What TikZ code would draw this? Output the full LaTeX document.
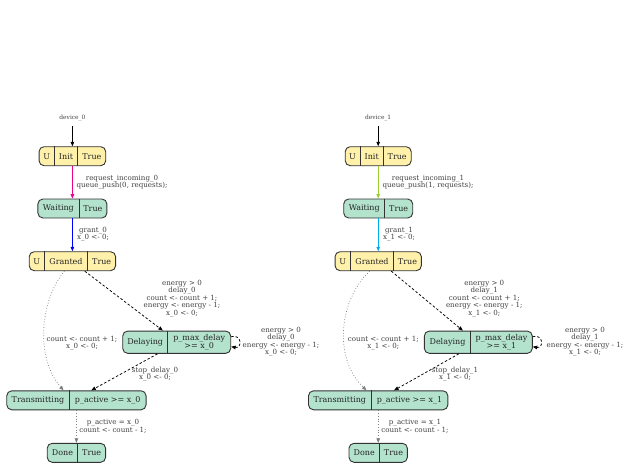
\documentclass[tikz,border=0pt]{standalone}
\usepackage{fontspec}
\setmainfont{DejaVu Serif}
\usetikzlibrary{arrows.meta}
\definecolor{ylw}{HTML}{FFF0AA}
\definecolor{mint}{HTML}{B3E2CD}
\definecolor{ygreen}{HTML}{9ACD32}
\definecolor{bord}{HTML}{333333}
\newcommand\vdiv[2]{\draw[divline] (#2.north -| #1,0) -- (#2.south -| #1,0);}
\begin{document}
\begin{tikzpicture}[x=1pt,y=-1pt,
  sbox/.style={draw=bord,line width=0.9pt,rounded corners=5pt,inner sep=0pt,minimum height=19pt},
  divline/.style={draw=bord,line width=0.8pt},
  ntext/.style={inner sep=0pt,font=\fontsize{8}{9}\selectfont,text=black!85,align=center},
  elabel/.style={inner sep=0pt,font=\fontsize{7.1}{7.4}\selectfont,text=black!75,align=center},
  dlabel/.style={inner sep=0pt,font=\fontsize{5.9}{7}\selectfont,text=black!75},
  arr/.style={-{Triangle[length=4.5pt,width=3.6pt]},line width=0.75pt},
  dashedge/.style={arr,dash pattern=on 2.5pt off 2pt,black},
  dotedge/.style={arr,dotted,black!50},
]
\useasboundingbox (0,0) rectangle (629,469);
% ================= LEFT =================
\node[dlabel] (dev0) at (72.4,118) {device\_0};
\node[sbox,fill=ylw,minimum width=66.7pt] (init0) at (72.4,156.2) {};
\vdiv{54.3}{init0}\vdiv{77.7}{init0}
\node[ntext] (init0a) at (46.8,156.2) {U};
\node[ntext] (init0b) at (66,156.2) {Init};
\node[ntext] (init0c) at (91.9,156.2) {True};

\node[sbox,fill=mint,minimum width=69pt] (wait0) at (72.4,208.5) {};
\vdiv{79}{wait0}
\node[ntext] (wait0a) at (58.4,208.5) {Waiting};
\node[ntext] (wait0b) at (92.9,208.5) {True};

\node[sbox,fill=ylw,minimum width=86.4pt] (gran0) at (72.4,261.2) {};
\vdiv{44.3}{gran0}\vdiv{87.7}{gran0}
\node[ntext] (gran0a) at (36.8,261.2) {U};
\node[ntext] (gran0b) at (66,261.2) {Granted};
\node[ntext] (gran0c) at (101.7,261.2) {True};

\node[sbox,fill=mint,minimum width=108pt,minimum height=22.3pt] (dly0) at (176.7,342.2) {};
\vdiv{167.7}{dly0}
\node[ntext] (dly0a) at (145.2,342.2) {Delaying};
\node[ntext] (dly0b) at (199.2,342.2) {p\_max\_delay\\[-0.8pt]>= x\_0};

\node[sbox,fill=mint,minimum width=139.3pt] (tr0) at (76.4,400.3) {};
\vdiv{69.3}{tr0}
\node[ntext] (tr0a) at (38,400.3) {Transmitting};
\node[ntext] (tr0b) at (107.7,400.3) {p\_active >= x\_0};

\node[sbox,fill=mint,minimum width=58.4pt] (done0) at (76.4,452.8) {};
\vdiv{77.7}{done0}
\node[ntext] (done0a) at (62.5,452.8) {Done};
\node[ntext] (done0b) at (91.7,452.8) {True};

\path (dev0.south) ++(0,-5pt) coordinate (dev0s);
\draw[arr,black] (dev0s) -- (init0.north);
\draw[arr,magenta] (init0.south) -- (wait0.north);
\node[elabel] (l01) at (122,182) {request\_incoming\_0\\queue\_push(0, requests);};
\draw[arr,blue] (wait0.south) -- (gran0.north);
\node[elabel] (l02) at (93,234.2) {grant\_0\\x\_0 <- 0;};
\draw[dashedge] ([xshift=56pt]gran0.south west) -- ([xshift=40.6pt]dly0.north west);
\node[elabel] (l03) at (182,298.5) {energy > 0\\delay\_0\\count <- count + 1;\\energy <- energy - 1;\\x\_0 <- 0;};
\draw[dotedge] ([xshift=35.7pt]gran0.south west) .. controls (40,300) and (35,358) .. ([xshift=57.3pt]tr0.north west);
\node[elabel] (l04) at (82,343) {count <- count + 1;\\x\_0 <- 0;};
\draw[dashedge] ([yshift=5.5pt]dly0.east) .. controls +(11,-3) and +(11,2) .. ([yshift=-4.5pt]dly0.east);
\node[elabel] (l05) at (281,341.5) {energy > 0\\delay\_0\\energy <- energy - 1;\\x\_0 <- 0;};
\draw[dashedge] ([xshift=35.3pt]dly0.south west) -- ([xshift=85pt]tr0.north west);
\node[elabel] (l06) at (155,374) {stop\_delay\_0\\x\_0 <- 0;};
\draw[dotedge] (tr0.south) -- (done0.north);
\node[elabel] (l07) at (113,426.5) {p\_active = x\_0\\count <- count - 1;};

% ================= RIGHT =================
\node[dlabel] (dev1) at (378.2,118) {device\_1};
\node[sbox,fill=ylw,minimum width=66pt] (init1) at (378.2,156.2) {};
\vdiv{360}{init1}\vdiv{383.3}{init1}
\node[ntext] (init1a) at (352.5,156.2) {U};
\node[ntext] (init1b) at (371.7,156.2) {Init};
\node[ntext] (init1c) at (397.2,156.2) {True};

\node[sbox,fill=mint,minimum width=69pt] (wait1) at (378.2,208.5) {};
\vdiv{384.7}{wait1}
\node[ntext] (wait1a) at (364.2,208.5) {Waiting};
\node[ntext] (wait1b) at (398.7,208.5) {True};

\node[sbox,fill=ylw,minimum width=86.3pt] (gran1) at (378.2,261.2) {};
\vdiv{350.3}{gran1}\vdiv{393.7}{gran1}
\node[ntext] (gran1a) at (342.7,261.2) {U};
\node[ntext] (gran1b) at (372,261.2) {Granted};
\node[ntext] (gran1c) at (407.5,261.2) {True};

\node[sbox,fill=mint,minimum width=108pt,minimum height=22.3pt] (dly1) at (478.3,342.2) {};
\vdiv{470.7}{dly1}
\node[ntext] (dly1a) at (447.5,342.2) {Delaying};
\node[ntext] (dly1b) at (501.5,342.2) {p\_max\_delay\\[-0.8pt]>= x\_1};

\node[sbox,fill=mint,minimum width=139.4pt] (tr1) at (378.2,400.3) {};
\vdiv{371.3}{tr1}
\node[ntext] (tr1a) at (339.8,400.3) {Transmitting};
\node[ntext] (tr1b) at (409.5,400.3) {p\_active >= x\_1};

\node[sbox,fill=mint,minimum width=58.4pt] (done1) at (378.2,452.8) {};
\vdiv{379.3}{done1}
\node[ntext] (done1a) at (364.3,452.8) {Done};
\node[ntext] (done1b) at (393.5,452.8) {True};

\path (dev1.south) ++(0,-5pt) coordinate (dev1s);
\draw[arr,black] (dev1s) -- (init1.north);
\draw[arr,ygreen] (init1.south) -- (wait1.north);
\node[elabel] (l11) at (428,182) {request\_incoming\_1\\queue\_push(1, requests);};
\draw[arr,cyan] (wait1.south) -- (gran1.north);
\node[elabel] (l12) at (399,234.2) {grant\_1\\x\_1 <- 0;};
\draw[dashedge] ([xshift=56.7pt]gran1.south west) -- ([xshift=39pt]dly1.north west);
\node[elabel] (l13) at (484.3,298.5) {energy > 0\\delay\_1\\count <- count + 1;\\energy <- energy - 1;\\x\_1 <- 0;};
\draw[dotedge] ([xshift=35pt]gran1.south west) .. controls (339,300) and (333,358) .. ([xshift=58.4pt]tr1.north west);
\node[elabel] (l14) at (383.3,343) {count <- count + 1;\\x\_1 <- 0;};
\draw[dashedge] ([yshift=5.5pt]dly1.east) .. controls +(11,-3) and +(11,2) .. ([yshift=-4.5pt]dly1.east);
\node[elabel] (l15) at (585,341.5) {energy > 0\\delay\_1\\energy <- energy - 1;\\x\_1 <- 0;};
\draw[dashedge] ([xshift=35pt]dly1.south west) -- ([xshift=86pt]tr1.north west);
\node[elabel] (l16) at (455,374) {stop\_delay\_1\\x\_1 <- 0;};
\draw[dotedge] (tr1.south) -- (done1.north);
\node[elabel] (l17) at (415,426.5) {p\_active = x\_1\\count <- count - 1;};
\end{tikzpicture}
\end{document}
